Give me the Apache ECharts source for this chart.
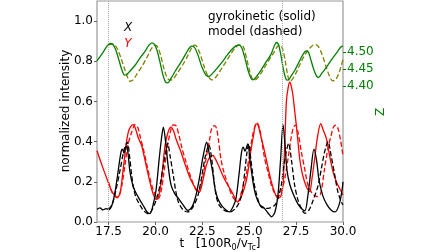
<!DOCTYPE html>
<html>
<head>
<meta charset="utf-8">
<script src="https://cdn.jsdelivr.net/npm/echarts@6/dist/echarts.min.js"></script>
<style>
  html, body { margin: 0; padding: 0; background: #fff; }
  #chart { width: 448px; height: 252px; }
</style>
</head>
<body>
<div id="chart"></div>
<script>
// tick labels
const tickT = [17.5, 20.0, 22.5, 25.0, 27.5, 30.0]
const tickIntensity = [0.0, 0.2, 0.4, 0.6, 0.8, 1.0]
const tickZ = [4.40, 4.45, 4.50]
// dotted vertical markers
const markTimes = [17.49, 26.78]

// X (black), gyrokinetic = solid, model = dashed
const xSolid = [
  [16.88, 0.063], [17.04, 0.07], [17.2, 0.06], [17.36, 0.067], [17.52, 0.062], [17.68, 0.085],
  [17.84, 0.149], [18.0, 0.248], [18.16, 0.348], [18.24, 0.362], [18.32, 0.343], [18.43, 0.378],
  [18.51, 0.36], [18.64, 0.248], [18.8, 0.179], [18.96, 0.144], [19.17, 0.109], [19.39, 0.075],
  [19.55, 0.05], [19.71, 0.042], [19.87, 0.085], [20.03, 0.159], [20.19, 0.308], [20.32, 0.417],
  [20.42, 0.472], [20.53, 0.407], [20.67, 0.283], [20.83, 0.184], [21.04, 0.139], [21.25, 0.114],
  [21.47, 0.085], [21.72, 0.058], [21.95, 0.075], [22.16, 0.133], [22.37, 0.233], [22.53, 0.323],
  [22.73, 0.397], [22.85, 0.348], [23.05, 0.248], [23.17, 0.169], [23.33, 0.114], [23.55, 0.079],
  [23.76, 0.06], [23.94, 0.05], [24.13, 0.075], [24.29, 0.116], [24.45, 0.233], [24.59, 0.348],
  [24.68, 0.373], [24.77, 0.353], [24.92, 0.389], [25.04, 0.308], [25.2, 0.199], [25.36, 0.129],
  [25.57, 0.085], [25.79, 0.07], [26.0, 0.045], [26.19, 0.026], [26.37, 0.05], [26.53, 0.134],
  [26.67, 0.308], [26.8, 0.485], [26.91, 0.383], [27.01, 0.258], [27.17, 0.184], [27.39, 0.129],
  [27.6, 0.089], [27.81, 0.065], [27.97, 0.056], [28.13, 0.134], [28.29, 0.258], [28.45, 0.363],
  [28.59, 0.308], [28.72, 0.209], [28.93, 0.129], [29.15, 0.085], [29.36, 0.06], [29.57, 0.05],
  [29.79, 0.085], [29.95, 0.159], [30.0, 0.2]
]
const xModel = [
  [17.49, 0.063], [17.68, 0.085], [17.89, 0.159], [18.11, 0.258], [18.32, 0.358], [18.5, 0.397],
  [18.61, 0.333], [18.73, 0.232], [18.85, 0.159], [18.99, 0.116], [19.17, 0.085], [19.35, 0.058],
  [19.62, 0.041], [19.81, 0.06], [20.06, 0.116], [20.24, 0.184], [20.42, 0.282], [20.56, 0.358],
  [20.65, 0.392], [20.77, 0.333], [20.95, 0.232], [21.09, 0.149], [21.22, 0.1], [21.47, 0.06],
  [21.73, 0.05], [22.0, 0.075], [22.27, 0.134], [22.48, 0.233], [22.67, 0.333], [22.85, 0.383],
  [22.99, 0.318], [23.12, 0.209], [23.23, 0.133], [23.39, 0.085], [23.67, 0.058], [23.97, 0.05],
  [24.29, 0.07], [24.51, 0.109], [24.65, 0.165], [24.77, 0.258], [24.88, 0.348], [24.97, 0.389],
  [25.09, 0.308], [25.23, 0.209], [25.36, 0.149], [25.63, 0.075], [26.0, 0.068], [26.37, 0.085],
  [26.53, 0.119], [26.71, 0.184], [26.85, 0.283], [26.97, 0.349], [27.1, 0.391], [27.25, 0.308],
  [27.42, 0.184], [27.6, 0.109], [27.78, 0.068], [27.96, 0.043], [28.19, 0.06], [28.41, 0.109],
  [28.68, 0.184], [28.85, 0.268], [29.02, 0.349], [29.2, 0.4], [29.36, 0.333], [29.56, 0.233],
  [29.73, 0.149], [29.91, 0.1], [30.0, 0.085]
]

// Y (red)
const ySolid = [
  [16.88, 0.355], [17.2, 0.268], [17.47, 0.2], [17.68, 0.149], [17.84, 0.133], [17.95, 0.12],
  [18.11, 0.144], [18.27, 0.258], [18.43, 0.383], [18.55, 0.447], [18.69, 0.477], [18.82, 0.485],
  [18.96, 0.457], [19.09, 0.417], [19.26, 0.381], [19.44, 0.308], [19.62, 0.232], [19.81, 0.159],
  [19.97, 0.119], [20.08, 0.113], [20.24, 0.159], [20.37, 0.258], [20.51, 0.381], [20.67, 0.447],
  [20.83, 0.472], [20.99, 0.447], [21.09, 0.414], [21.36, 0.348], [21.63, 0.273], [21.89, 0.209],
  [22.16, 0.165], [22.34, 0.149], [22.53, 0.209], [22.71, 0.282], [22.89, 0.323], [23.07, 0.331],
  [23.17, 0.318], [23.32, 0.29], [23.49, 0.253], [23.67, 0.215], [23.89, 0.179], [24.12, 0.141],
  [24.38, 0.1], [24.59, 0.129], [24.83, 0.2], [24.96, 0.268], [25.09, 0.356], [25.23, 0.432],
  [25.36, 0.488], [25.47, 0.482], [25.63, 0.422], [25.82, 0.349], [26.0, 0.273], [26.18, 0.2],
  [26.35, 0.149], [26.53, 0.118], [26.69, 0.129], [26.8, 0.184], [26.9, 0.407], [26.98, 0.598],
  [27.07, 0.666], [27.16, 0.697], [27.24, 0.676], [27.33, 0.631], [27.42, 0.556], [27.51, 0.482],
  [27.6, 0.397], [27.69, 0.316], [27.81, 0.248], [27.95, 0.2], [28.08, 0.169], [28.22, 0.151],
  [28.35, 0.219], [28.49, 0.316], [28.63, 0.417], [28.81, 0.49], [28.95, 0.457], [29.11, 0.416],
  [29.28, 0.333], [29.47, 0.25], [29.65, 0.199], [29.82, 0.167], [30.0, 0.134]
]
const yModel = [
  [17.49, 0.2], [17.68, 0.149], [17.89, 0.124], [18.05, 0.129], [18.21, 0.184], [18.37, 0.283],
  [18.53, 0.383], [18.73, 0.447], [18.91, 0.485], [19.07, 0.467], [19.2, 0.417], [19.35, 0.364],
  [19.52, 0.293], [19.71, 0.215], [19.92, 0.149], [20.15, 0.116], [20.29, 0.149], [20.45, 0.248],
  [20.6, 0.348], [20.75, 0.432], [20.95, 0.483], [21.09, 0.48], [21.25, 0.432], [21.41, 0.368],
  [21.63, 0.298], [21.81, 0.243], [21.98, 0.199], [22.25, 0.149], [22.43, 0.184], [22.59, 0.258],
  [22.69, 0.314], [22.88, 0.407], [23.0, 0.467], [23.14, 0.48], [23.25, 0.467], [23.36, 0.407],
  [23.49, 0.314], [23.65, 0.248], [23.94, 0.165], [24.16, 0.119], [24.38, 0.1], [24.59, 0.149],
  [24.72, 0.194], [24.83, 0.232], [25.01, 0.333], [25.18, 0.431], [25.31, 0.477], [25.41, 0.493],
  [25.55, 0.467], [25.68, 0.397], [25.82, 0.316], [26.0, 0.248], [26.18, 0.184], [26.35, 0.144],
  [26.53, 0.126], [26.69, 0.149], [26.88, 0.209], [27.07, 0.316], [27.23, 0.417], [27.36, 0.472],
  [27.47, 0.482], [27.6, 0.447], [27.78, 0.348], [27.95, 0.268], [28.13, 0.184], [28.35, 0.144],
  [28.61, 0.126], [28.8, 0.139], [29.02, 0.267], [29.2, 0.368], [29.37, 0.432], [29.49, 0.472],
  [29.61, 0.482], [29.73, 0.467], [29.87, 0.407], [30.0, 0.328]
]

// Z (green, right axis)
const zSolid = [
  [16.88, 4.474], [17.2, 4.499], [17.41, 4.517], [17.57, 4.525], [17.73, 4.522], [17.89, 4.505],
  [18.05, 4.476], [18.21, 4.447], [18.35, 4.432], [18.46, 4.433], [18.64, 4.444], [18.91, 4.461],
  [19.17, 4.482], [19.44, 4.502], [19.65, 4.52], [19.81, 4.527], [19.95, 4.522], [20.08, 4.505],
  [20.24, 4.47], [20.4, 4.432], [20.53, 4.412], [20.65, 4.409], [20.83, 4.423], [21.09, 4.447],
  [21.36, 4.47], [21.63, 4.496], [21.84, 4.514], [21.97, 4.517], [22.11, 4.511], [22.27, 4.49],
  [22.48, 4.455], [22.69, 4.432], [22.85, 4.428], [23.01, 4.435], [23.28, 4.452], [23.55, 4.47],
  [23.81, 4.49], [24.08, 4.508], [24.29, 4.518], [24.45, 4.521], [24.61, 4.511], [24.77, 4.482],
  [24.93, 4.447], [25.09, 4.423], [25.2, 4.418], [25.36, 4.426], [25.63, 4.447], [25.89, 4.47],
  [26.16, 4.493], [26.35, 4.52], [26.45, 4.528], [26.56, 4.522], [26.69, 4.49], [26.83, 4.447],
  [26.96, 4.42], [27.07, 4.417], [27.23, 4.429], [27.44, 4.447], [27.65, 4.47], [27.87, 4.493],
  [28.03, 4.503], [28.16, 4.499], [28.29, 4.476], [28.45, 4.447], [28.59, 4.429], [28.69, 4.425],
  [28.88, 4.438], [29.15, 4.458], [29.41, 4.479], [29.68, 4.499], [29.87, 4.514], [30.0, 4.517]
]
const zModel = [
  [17.49, 4.521], [17.75, 4.523], [17.95, 4.511], [18.16, 4.482], [18.37, 4.447], [18.53, 4.423],
  [18.64, 4.414], [18.8, 4.418], [19.01, 4.435], [19.28, 4.458], [19.55, 4.485], [19.76, 4.508],
  [19.97, 4.52], [20.13, 4.514], [20.29, 4.487], [20.45, 4.452], [20.61, 4.426], [20.77, 4.417],
  [20.93, 4.42], [21.2, 4.441], [21.47, 4.464], [21.73, 4.49], [21.92, 4.511], [22.05, 4.52],
  [22.19, 4.517], [22.37, 4.496], [22.59, 4.458], [22.8, 4.429], [22.99, 4.418], [23.17, 4.423],
  [23.44, 4.444], [23.71, 4.467], [23.97, 4.49], [24.24, 4.511], [24.45, 4.52], [24.59, 4.52],
  [24.72, 4.511], [24.88, 4.476], [25.04, 4.441], [25.18, 4.42], [25.31, 4.418], [25.52, 4.429],
  [25.79, 4.452], [26.05, 4.476], [26.32, 4.499], [26.51, 4.517], [26.64, 4.52], [26.77, 4.511],
  [26.91, 4.476], [27.04, 4.435], [27.16, 4.414], [27.28, 4.418], [27.49, 4.438], [27.71, 4.464],
  [27.92, 4.487], [28.13, 4.505], [28.35, 4.518], [28.51, 4.522], [28.67, 4.517], [28.88, 4.493],
  [29.09, 4.458], [29.28, 4.429], [29.45, 4.415], [29.63, 4.42], [29.84, 4.447], [30.0, 4.479]
]

const FONT = 'DejaVu Sans'
const chart = echarts.init(document.getElementById('chart'))

const lineSeries = (name, data, color, dashed, yAxisIndex) => ({
  name: name,
  type: 'line',
  data: data,
  yAxisIndex: yAxisIndex,
  showSymbol: false,
  smooth: 0.3,
  lineStyle: {
    color: color,
    width: 1.3,
    type: dashed ? [5, 2.5] : 'solid'
  }
})

const option = {
  animation: false,
  textStyle: { fontFamily: FONT },
  grid: {
    left: 97, right: 105, top: 1, bottom: 30,
    show: true, borderColor: '#999', borderWidth: 1.2, backgroundColor: 'transparent'
  },
  xAxis: {
    type: 'value',
    min: 16.88, max: 30.0,
    axisLine: { show: false },
    splitLine: { show: false },
    axisTick: { show: true, length: 3, lineStyle: { color: '#666' }, customValues: tickT },
    axisLabel: {
      color: '#000', fontSize: 12, fontFamily: FONT, margin: 4,
      customValues: tickT,
      formatter: v => v.toFixed(1)
    }
  },
  yAxis: [
    {
      type: 'value',
      min: 0, max: 1.1,
      axisLine: { show: false },
      splitLine: { show: false },
      axisTick: { show: true, length: 3, lineStyle: { color: '#666' }, customValues: tickIntensity },
      axisLabel: {
        color: '#000', fontSize: 12, fontFamily: FONT, margin: 4,
        customValues: tickIntensity,
        formatter: v => v.toFixed(1)
      }
    },
    {
      type: 'value',
      position: 'right',
      min: 4.0, max: 4.65,
      axisLine: { show: false },
      splitLine: { show: false },
      axisTick: { show: true, length: 3, lineStyle: { color: 'green' }, customValues: tickZ },
      axisLabel: {
        color: 'green', fontSize: 12, fontFamily: FONT, margin: 4,
        customValues: tickZ,
        formatter: v => v.toFixed(2)
      }
    }
  ],
  series: [
    lineSeries('Z model', zModel, '#808000', true, 1),
    lineSeries('Z gyrokinetic', zSolid, 'green', false, 1),
    lineSeries('Y model', yModel, 'red', true, 0),
    lineSeries('Y gyrokinetic', ySolid, 'red', false, 0),
    lineSeries('X model', xModel, '#000', true, 0),
    Object.assign(lineSeries('X gyrokinetic', xSolid, '#000', false, 0), {
      markLine: {
        silent: true,
        symbol: 'none',
        label: { show: false },
        lineStyle: { color: '#aaa', type: 'dotted', width: 1 },
        data: markTimes.map(t => ({ xAxis: t }))
      }
    })
  ],
  graphic: [
    { type: 'text', x: 66, y: 111, rotation: Math.PI / 2,
      style: { text: 'normalized intensity', fontSize: 12, fontFamily: FONT, fill: '#000', align: 'center', verticalAlign: 'middle' } },
    { type: 'text', x: 381, y: 112, rotation: Math.PI / 2,
      style: { text: 'Z', fontSize: 12, fontFamily: FONT, fill: 'green', align: 'center', verticalAlign: 'middle' } },
    { type: 'text', x: 220, y: 244,
      style: {
        text: '{a|t   [100R}{s|0}{a|/v}{s|Tc}{a|]}',
        align: 'center', verticalAlign: 'middle',
        rich: {
          a: { fontSize: 12, fontFamily: FONT, fill: '#000', lineHeight: 16, verticalAlign: 'middle' },
          s: { fontSize: 8, fontFamily: FONT, fill: '#000', lineHeight: 16, verticalAlign: 'bottom', padding: [4, 0, 0, 0] }
        }
      } },
    { type: 'text', x: 128, y: 28,
      style: { text: 'X', fontSize: 12, fontStyle: 'italic', fontFamily: FONT, fill: '#000', align: 'center', verticalAlign: 'middle' } },
    { type: 'text', x: 128, y: 44,
      style: { text: 'Y', fontSize: 12, fontStyle: 'italic', fontFamily: FONT, fill: 'red', align: 'center', verticalAlign: 'middle' } },
    { type: 'text', x: 208, y: 17,
      style: { text: 'gyrokinetic (solid)', fontSize: 12, fontFamily: FONT, fill: '#000', align: 'left', verticalAlign: 'middle' } },
    { type: 'text', x: 208, y: 32,
      style: { text: 'model (dashed)', fontSize: 12, fontFamily: FONT, fill: '#000', align: 'left', verticalAlign: 'middle' } }
  ]
}

chart.setOption(option)
</script>
</body>
</html>
